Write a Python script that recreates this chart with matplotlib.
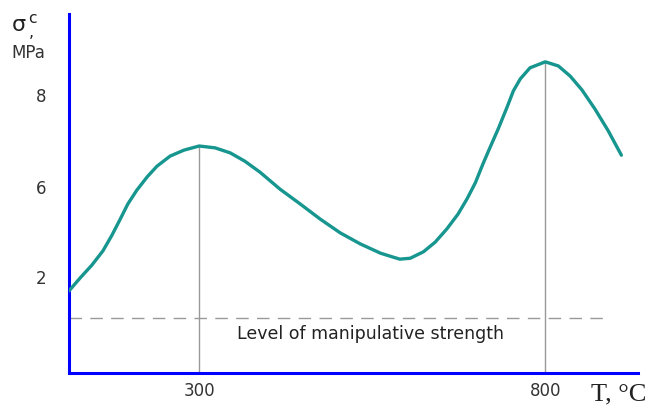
import matplotlib
matplotlib.use('Agg')
import matplotlib.pyplot as plt

# curve: temperature (C) vs compressive strength
temp = [112, 128, 145, 161, 174, 186, 197, 210, 225, 239, 258, 278, 300,
        323, 345, 366, 388, 417, 446, 475, 504, 533, 562, 579, 590, 605,
        624, 641, 658, 674, 687, 699, 710, 720, 732, 745, 754, 764, 778,
        800, 819, 836, 853, 872, 891, 910]
sigma = [3.72, 4.00, 4.28, 4.59, 4.93, 5.28, 5.61, 5.91, 6.20, 6.43, 6.65,
         6.78, 6.87, 6.83, 6.72, 6.54, 6.30, 5.93, 5.61, 5.28, 4.98, 4.74,
         4.54, 4.46, 4.41, 4.43, 4.57, 4.78, 5.07, 5.39, 5.72, 6.07, 6.48,
         6.83, 7.24, 7.72, 8.07, 8.33, 8.57, 8.70, 8.61, 8.39, 8.09, 7.67,
         7.20, 6.67]

peaks_t = [300, 800]
peaks_s = [6.87, 8.70]
level = 3.13

yticks = [4.04, 6, 8]
ytick_labels = ['2', '6', '8']
xticks = [300, 800]
xtick_labels = ['300', '800']

teal = '#17968f'
blue = '#0000ff'

fig = plt.figure(figsize=(6.46, 4.06), dpi=100)
ax = fig.add_axes([69/646, 32/406, 569/646, 359/406])
ax.set_xlim(112, 934)
ax.set_ylim(1.935, 9.74)

ax.plot(temp, sigma, color=teal, lw=2.4, solid_capstyle='round',
        solid_joinstyle='round', zorder=3)
for t, s in zip(peaks_t, peaks_s):
  ax.plot([t, t], [1.935, s], color='#999999', lw=1.0, zorder=2)
ax.plot([112, 890], [level, level], color='#999999', lw=1.0,
        dashes=(9, 6), zorder=2)
ax.text(547, level - 0.32, 'Level of manipulative strength', ha='center',
        va='center', fontsize=12.5, color='#222222')

for side in ['top', 'right']:
  ax.spines[side].set_visible(False)
for side in ['left', 'bottom']:
  ax.spines[side].set_color(blue)
  ax.spines[side].set_linewidth(2.2)

ax.set_xticks(xticks)
ax.set_xticklabels(xtick_labels)
ax.set_yticks(yticks)
ax.set_yticklabels(ytick_labels)
ax.tick_params(axis='both', length=0, labelsize=12, labelcolor='#333333')
ax.tick_params(axis='y', pad=16)
ax.tick_params(axis='x', pad=6)

fig.text(591/646, 1 - 400/406, 'T, °C', fontsize=19, family='Liberation Serif',
         color='#222222', va='baseline', ha='left')
fig.text(11/646, 1 - 32/406, r'$\mathrm{σ}\,^{\mathrm{c}}_{,}$', fontsize=16,
         math_fontfamily='dejavusans', color='#222222', va='baseline')
fig.text(11/646, 1 - 58/406, 'MPa', fontsize=12, color='#333333',
         va='baseline')

fig.savefig('out.png', dpi=100)
